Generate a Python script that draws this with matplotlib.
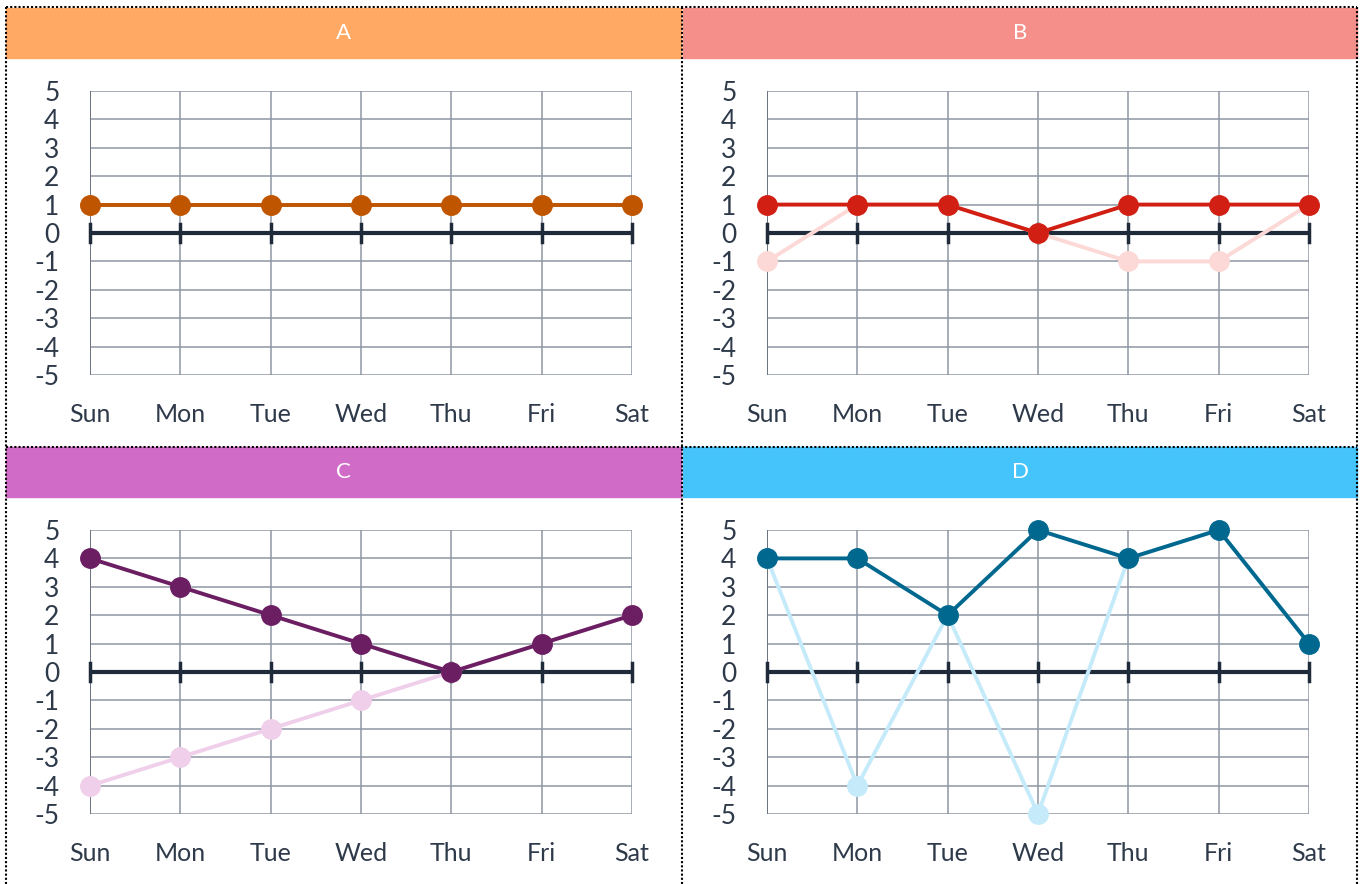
import matplotlib
matplotlib.use("Agg")
import matplotlib.pyplot as plt
from matplotlib.patches import Rectangle
from matplotlib.lines import Line2D

days = ["Sun", "Mon", "Tue", "Wed", "Thu", "Fri", "Sat"]
panel_names = ["A", "B", "C", "D"]

# signed series (light) and the main series (dark)
a_main = [1, 1, 1, 1, 1, 1, 1]
a_light = [1, 1, 1, 1, 1, 1, 1]
b_main = [1, 1, 1, 0, 1, 1, 1]
b_light = [-1, 1, 1, 0, -1, -1, 1]
c_main = [4, 3, 2, 1, 0, 1, 2]
c_light = [-4, -3, -2, -1, 0, 1, 2]
d_main = [4, 4, 2, 5, 4, 5, 1]
d_light = [4, -4, 2, -5, 4, 5, 1]

header_colors = ["#FFA965", "#F58F8A", "#D16BC8", "#45C4FC"]
main_colors = ["#C05500", "#D11F14", "#6B1E62", "#00688F"]
light_colors = ["#F5C9A5", "#FCD9D6", "#F0CFEA", "#C5EBFB"]

W, H = 1361, 884
plt.rcParams['font.family'] = ['Lato', 'DejaVu Sans']
plt.rcParams['axes.unicode_minus'] = False
fig = plt.figure(figsize=(W / 100, H / 100), dpi=100)

grid_col = "#8F97A3"
text_col = "#2E3A4A"
zero_col = "#1F2B3B"

# panel boxes in pixels: left, top, right
panels = [(6, 8, 681), (683, 8, 1357), (6, 447, 681), (683, 447, 1357)]
series = [(a_main, a_light), (b_main, b_light), (c_main, c_light), (d_main, d_light)]

for i, (px0, py0, px1) in enumerate(panels):
    # header band
    fig.patches.append(Rectangle((px0 / W, 1 - (py0 + 50) / H), (px1 - px0) / W, 50 / H,
                                 transform=fig.transFigure, color=header_colors[i], zorder=0))
    fig.text((px0 + px1) / 2 / W, 1 - (py0 + 25) / H, panel_names[i], color="white",
             ha="center", va="center", fontsize=16, fontweight="normal")

    # plot area: Sun..Sat spans 542 px, 5..-5 spans 284 px
    ax_l = px0 + 84
    ax_t = py0 + 83
    ax = fig.add_axes([ax_l / W, 1 - (ax_t + 284) / H, 542 / W, 284 / H])
    x = list(range(len(days)))
    main, light = series[i]

    ax.set_xlim(0, 6)
    ax.set_ylim(-5, 5)
    ax.set_yticks(range(-5, 6))
    ax.set_xticks(x)
    ax.set_xticklabels(days)
    ax.grid(True, color=grid_col, lw=1.1)
    ax.set_axisbelow(True)
    for s in ax.spines.values():
        s.set_visible(False)
    ax.tick_params(length=0, labelcolor=text_col, pad=0)
    ax.tick_params(axis="y", pad=22, labelsize=19)
    ax.tick_params(axis="x", pad=20, labelsize=18)
    ax.axvline(0, color="#6B7480", lw=1.4, zorder=1)

    # zero axis with tick marks
    ax.axhline(0, color=zero_col, lw=3, zorder=2)
    for xi in x:
        ax.plot([xi, xi], [-0.32, 0.32], color=zero_col, lw=2.5, zorder=2, clip_on=False)

    ax.plot(x, light, color=light_colors[i], lw=2.8, marker="o", ms=14,
            zorder=3, clip_on=False)
    ax.plot(x, main, color=main_colors[i], lw=2.8, marker="o", ms=14,
            zorder=4, clip_on=False)

# dotted panel borders
dot = dict(color="black", lw=1.5, linestyle=(0, (1, 1)), transform=fig.transFigure)
fig.add_artist(Line2D([6 / W, 1357 / W], [1 - 7 / H, 1 - 7 / H], **dot))
fig.add_artist(Line2D([6 / W, 1357 / W], [1 - 447 / H, 1 - 447 / H], **dot))
for xv in (6, 682, 1357):
    fig.add_artist(Line2D([xv / W, xv / W], [0, 1 - 7 / H], **dot))

fig.savefig("out.png", dpi=100)
